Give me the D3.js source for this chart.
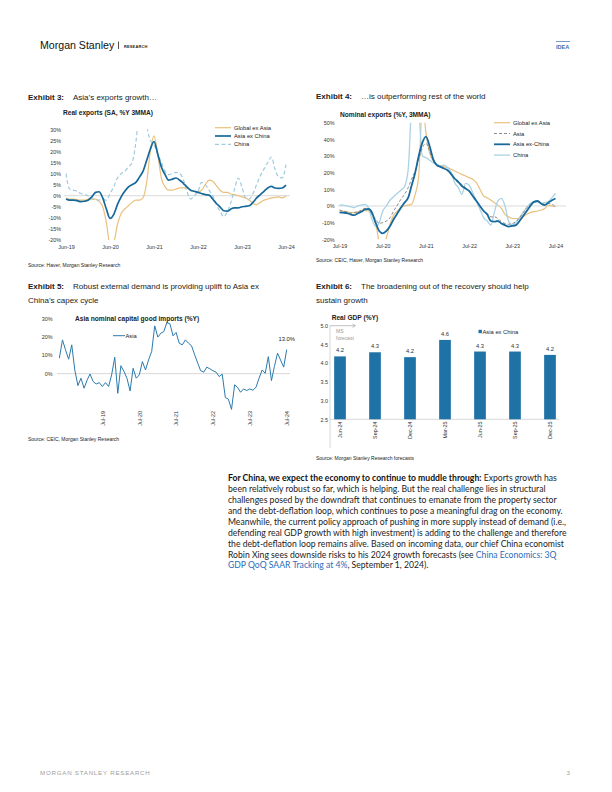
<!DOCTYPE html>
<html><head><meta charset="utf-8">
<script src="https://cdn.jsdelivr.net/npm/d3@7"></script>
<style>body{margin:0;background:#fff}svg{display:block}</style>
</head><body>
<svg id="c" width="612" height="792"></svg>
<script>
// ---------- DATA ----------
// Exhibit 3: Real exports (SA, %Y 3MMA), monthly Jun-19 .. Jun-24
const ex3Start = [2019, 5];
const ex3Ticks = ["Jun-19","Jun-20","Jun-21","Jun-22","Jun-23","Jun-24"];
const ex3YTicks = [30,25,20,15,10,5,0,-5,-10,-15,-20];
const ex3GlobalExAsia = [-1,-1.5,-1.5,-1.8,-2,-2,-1.5,-1.5,-1.5,-2.5,-5,-12,-22,-21,-13,-8,-6,-4.5,-3,-2,-2,-1,6,20,27,19,8,4,2.5,2.5,3,3.5,3.5,3.5,2.5,2,1.8,2.5,5,7,6.5,4.5,2.5,1.5,1.5,0.8,0.5,0,-0.5,-1,-2,-3.5,-4,-3,-2,-1.5,-1,-0.8,-0.5,-1,0];
const ex3AsiaExChina = [-1.5,-2,-2,-2.2,-2.7,-2.5,-2,-0.5,1.5,1.8,-1,-6,-10.2,-8.5,-4,-0.5,2,4,5,6,8.5,11,16,21,24.5,19,13,9.5,7,7.5,8,7,5.5,4,2.5,2,1.5,1,0.5,0.3,-1.5,-3.5,-5,-6.8,-7,-6,-5.5,-5.5,-5,-4.8,-4.5,-3,-1,0.5,2,3.5,4.2,3.5,3.3,3.5,4.8];
const ex3China = [10,3,2.5,2,1,0.5,0,-1,-2,-2,-1.5,-2,1,4,8,10,11,13,15,24,40,45,32,25,23,19,15,11,9.5,10,10.5,10,7,2,-1.5,0,2,6,5,2.5,0,-4,-7,-9.5,-7,-3,3,8,4,-1,-1.5,1,5,9,12,15,17.5,12,8.5,8,14];

// Exhibit 4: Nominal exports (%Y, 3MMA), monthly Jul-19 .. Jul-24
const ex4Start = [2019, 6];
const ex4Ticks = ["Jul-19","Jul-20","Jul-21","Jul-22","Jul-23","Jul-24"];
const ex4YTicks = [50,40,30,20,10,0,-10,-20];
const ex4GlobalExAsia = [-3,-3.2,-3.5,-4,-4,-3.5,-3,-2.8,-3,-5,-10,-22,-27,-19,-11,-5.5,-3,-1,0,0.5,1,7,18,62,44,32,27,25,24,23.5,23,22,21,20,19,18,17,16,14,10,6,5,3.5,2,0.5,-1.5,-5,-6.5,-7.5,-7.5,-7.5,-6.5,-5,-4,-3.4,-3,-2.4,-1.5,0.5,0,-0.4];
const ex4Asia = [-2.4,-3,-3.5,-4.4,-4,-3.5,-2.5,-1.4,-1.5,-5,-8,-10.4,-10,-9,-7,-3,0.5,4,7,11,16,21,28,35,37.6,33,27,24,23.5,22.5,21,19,16,14,13,11,9,6,3,0,-3,-4.5,-6.5,-6.5,-7.5,-9.5,-10.5,-11,-10.5,-9.5,-7,-4,-1,1,2.5,2.5,1.5,1,1.5,1,-0.5];
const ex4AsiaExChina = [-3.8,-4,-4.3,-5,-5.5,-4.5,-3.5,-2,-1.8,-4,-10,-15,-16.4,-15,-12,-8,-4.5,-1,2,5,12,20,30,38,41.6,36,28,24.5,23.5,22.5,21.5,19,16.5,14.5,12,10.5,9,6,3,0,-3,-5,-9,-9.4,-9,-10.5,-11.5,-12.4,-12,-11.5,-9,-6,-3,0,2.5,3,1.5,0.5,2,3.5,4.5];
const ex4China = [0.6,0.5,0,-0.4,-1,0,0.6,1,-1,-8,-12.4,-10,-3,0,3.6,5.5,7.6,9.5,11.6,22,60,80,60,30,29,27.5,26,25,24,24.5,23,20,14,11,7,13.6,12.6,8,3,-2,-7,-9,-11.4,-3.4,3,4.6,0,-9.4,-11.4,-10,-7,-4,-1,1.5,2.6,2.5,1.5,2,2.6,5,7.6];

// Exhibit 5: Asia nominal capital good imports (%Y), monthly, ending Jul-24
const ex5End = [2024, 6];
const ex5Ticks = ["Jul-19","Jul-20","Jul-21","Jul-22","Jul-23","Jul-24"];
const ex5YTicks = [30,20,10,0];
const ex5Asia = [8.4,18.3,12.9,7.8,15.6,2.0,-6.5,-2.5,-7.9,-3.4,-0.2,-4.3,-5.6,-4.9,-7,-4.9,-7,-0.7,8.9,-10.7,4.3,1.1,-2.5,-9.4,2.9,-2.5,-0.7,6.5,2,7.4,12,25.9,19.8,22,22.8,27.7,27,20.5,22.3,16.5,15.6,18.3,16.5,15.1,10.2,5.6,1.6,0.8,3.5,2.6,1.6,0.8,-1.6,-0.3,-13,-13.8,-19.4,-6.1,-7.4,-10.1,-8.3,-9.2,-8.3,-9,-7.4,-2.5,2,0.2,9.2,-3.8,3.8,11.1,7.4,3.5,13.0];

// Exhibit 6: Real GDP (%Y), Asia ex China
const ex6Categories = ["Jun-24","Sep-24","Dec-24","Mar-25","Jun-25","Sep-25","Dec-25"];
const ex6Values = [4.18,4.29,4.16,4.62,4.31,4.31,4.22];
const ex6YTicks = [5.0,4.5,4.0,3.5,3.0,2.5];

// ---------- DRAW ----------
const svg = d3.select("#c");
const F = "'Liberation Sans', Arial, sans-serif";
const C = {gold:"#e9c17d", dark:"#17699b", light:"#9ecbe0", gray:"#8a8a8a", china4:"#a9d3e5", zero:"#c8c8c8", text:"#222", tick:"#333"};

function txt(g, x, y, s, o={}) {
  const t = g.append("text").attr("x", x).attr("y", y).text(s)
    .attr("font-family", o.family || F).attr("font-size", o.size || 6)
    .attr("fill", o.fill || C.text);
  if (o.weight) t.attr("font-weight", o.weight);
  if (o.anchor) t.attr("text-anchor", o.anchor);
  if (o.ls) t.attr("letter-spacing", o.ls);
  return t;
}

// Header
txt(svg, 40, 49, "Morgan Stanley", {size: 10.6, fill: "#111"});
svg.append("line").attr("x1",118.5).attr("x2",118.5).attr("y1",41.5).attr("y2",49).attr("stroke","#222").attr("stroke-width",0.8);
txt(svg, 124, 47.5, "RESEARCH", {size: 3.9, weight: "bold", fill: "#222", ls: 0.2});
svg.append("rect").attr("x",556).attr("y",41).attr("width",14).attr("height",0.7).attr("fill","#3d6fb0");
txt(svg, 556, 48.5, "IDEA", {size: 5.6, weight: "bold", fill: "#3d6fb0"});

// Footer
txt(svg, 40, 775, "MORGAN STANLEY RESEARCH", {size: 6.2, fill: "#a0a0a0", ls: 0.75});
txt(svg, 570, 775, "3", {size: 6.2, fill: "#a0a0a0", anchor: "end"});

function exhibitTitle(x, y, num, lines) {
  const t = txt(svg, x, y, "", {size: 8});
  t.append("tspan").attr("font-weight","bold").text("Exhibit " + num + ":");
  t.append("tspan").attr("x", x + 45).text(lines[0]);
  if (lines[1]) txt(svg, x, y + 13.5, lines[1], {size: 8});
}

function monthDates(start, n) {
  const s = new Date(Date.UTC(start[0], start[1], 1));
  return d3.range(n).map(i => d3.utcMonth.offset(s, i));
}
function parseTick(s) { return d3.utcParse("%b-%y")(s); }

// Generic line chart
function lineChart(cfg) {
  const g = svg.append("g");
  const x = d3.scaleUtc().domain(cfg.xDomain).range(cfg.xRange);
  const y = d3.scaleLinear().domain(cfg.yDomain).range(cfg.yRange);
  const clipId = "clip" + Math.random().toString(36).slice(2,8);
  g.append("clipPath").attr("id", clipId).append("rect")
    .attr("x", cfg.xRange[0]-10).attr("y", y(cfg.yDomain[1]))
    .attr("width", cfg.xRange[1]-cfg.xRange[0]+20).attr("height", y(cfg.yDomain[0]) - y(cfg.yDomain[1]));
  g.append("line").attr("x1", cfg.zeroX[0]).attr("x2", cfg.zeroX[1])
    .attr("y1", y(0)).attr("y2", y(0)).attr("stroke", C.zero).attr("stroke-width", 0.7);
  const yAxis = d3.axisLeft(y).tickValues(cfg.yTicks).tickFormat(d => d + "%").tickSize(0).tickPadding(0);
  const ya = g.append("g").attr("transform", `translate(${cfg.yLabelX},0)`).call(yAxis);
  ya.select(".domain").remove();
  ya.selectAll("text").attr("font-family", F).attr("font-size", 5.4).attr("fill", C.tick);
  const xa = g.append("g").attr("transform", `translate(0,${cfg.xLabelY})`)
    .call(d3.axisBottom(x).tickValues(cfg.xTicks.map(parseTick)).tickFormat(d3.utcFormat("%b-%y")).tickSize(0).tickPadding(0));
  xa.select(".domain").remove();
  xa.selectAll("text").attr("font-family", F).attr("font-size", 5.4).attr("fill", C.tick);
  if (cfg.rotate) {
    xa.selectAll("text").attr("transform", "rotate(-90)").attr("text-anchor", "end")
      .attr("dy", "0.35em").attr("x", 0).attr("y", 0);
  }
  const lg = g.append("g").attr("clip-path", `url(#${clipId})`);
  cfg.series.forEach(s => {
    const line = d3.line().x(d => x(d[0])).y(d => y(d[1])).curve(s.curve || d3.curveMonotoneX);
    lg.append("path").datum(s.dates.map((d,i) => [d, s.values[i]]))
      .attr("d", line).attr("fill", "none").attr("stroke", s.color)
      .attr("stroke-width", s.width).attr("stroke-dasharray", s.dash || null)
      .attr("stroke-linejoin", "round");
  });
  return {g, x, y};
}

// ---------- Exhibit 3 ----------
exhibitTitle(28, 100, 3, ["Asia\u2019s exports growth\u2026"]);
txt(svg, 63, 114.5, "Real exports (SA, %Y 3MMA)", {size: 6.6, weight: "bold"});
{
  const d = monthDates(ex3Start, ex3AsiaExChina.length);
  lineChart({
    xDomain: [d[0], d[d.length-1]], xRange: [66, 286],
    yDomain: [-20, 30], yRange: [240, 129.3], yTicks: ex3YTicks,
    yLabelX: 61, xLabelY: 245.5, xTicks: ex3Ticks, zeroX: [64, 290],
    series: [
      {dates: d, values: ex3GlobalExAsia, color: C.gold, width: 1.2},
      {dates: d, values: ex3China, color: C.light, width: 1.2, dash: "4,2.5"},
      {dates: d, values: ex3AsiaExChina, color: C.dark, width: 1.7}
    ]
  });
  const leg = [["Global ex Asia", C.gold, null, 1.2], ["Asia ex China", C.dark, null, 1.7], ["China", C.light, "4,2.5", 1.2]];
  leg.forEach((l, i) => {
    const yy = 127.7 + i * 8.3;
    svg.append("line").attr("x1", 215).attr("x2", 231).attr("y1", yy).attr("y2", yy)
      .attr("stroke", l[1]).attr("stroke-width", l[3]).attr("stroke-dasharray", l[2]);
    txt(svg, 234, yy + 2, l[0], {size: 5.8});
  });
  txt(svg, 28, 267, "Source: Haver, Morgan Stanley Research", {size: 5});
}

// ---------- Exhibit 4 ----------
exhibitTitle(316, 99, 4, ["\u2026is outperforming rest of the world"]);
txt(svg, 340, 116.5, "Nominal exports (%Y, 3MMA)", {size: 6.6, weight: "bold"});
{
  const d = monthDates(ex4Start, ex4AsiaExChina.length);
  lineChart({
    xDomain: [d[0], d[d.length-1]], xRange: [339.5, 555.5],
    yDomain: [-20, 50], yRange: [239.3, 122.7], yTicks: ex4YTicks,
    yLabelX: 334.5, xLabelY: 244.5, xTicks: ex4Ticks, zeroX: [338, 566],
    series: [
      {dates: d, values: ex4GlobalExAsia, color: C.gold, width: 1.2},
      {dates: d, values: ex4China, color: C.china4, width: 1.3},
      {dates: d, values: ex4Asia, color: C.gray, width: 1.0, dash: "3,2"},
      {dates: d, values: ex4AsiaExChina, color: C.dark, width: 1.8}
    ]
  });
  const leg = [["Global ex Asia", C.gold, null, 1.2], ["Asia", C.gray, "3,2", 1.0], ["Asia ex-China", C.dark, null, 1.8], ["China", C.china4, null, 1.3]];
  leg.forEach((l, i) => {
    const yy = 122.7 + i * 10.8;
    svg.append("line").attr("x1", 494).attr("x2", 510).attr("y1", yy).attr("y2", yy)
      .attr("stroke", l[1]).attr("stroke-width", l[3]).attr("stroke-dasharray", l[2]);
    txt(svg, 513, yy + 2, l[0], {size: 5.8});
  });
  txt(svg, 316, 262, "Source: CEIC, Haver, Morgan Stanley Research", {size: 5});
}

// ---------- Exhibit 5 ----------
exhibitTitle(28, 289, 5, ["Robust external demand is providing uplift to Asia ex", "China\u2019s capex cycle"]);
{
  const n = ex5Asia.length;
  const endD = new Date(Date.UTC(ex5End[0], ex5End[1], 1));
  const d = d3.range(n).map(i => d3.utcMonth.offset(endD, i - (n - 1)));
  const c = lineChart({
    xDomain: [parseTick("Jul-18"), parseTick("Jul-24")], xRange: [65.5, 286.7],
    yDomain: [-20, 30], yRange: [410.5, 318.3], yTicks: ex5YTicks,
    yLabelX: 52.5, xLabelY: 411, xTicks: ex5Ticks, zeroX: [57, 290], rotate: true,
    series: [{dates: d, values: ex5Asia, color: "#2c7aac", width: 1.0, curve: d3.curveLinear}]
  });
  txt(svg, 75, 320.5, "Asia nominal capital good imports (%Y)", {size: 6.6, weight: "bold"});
  svg.append("line").attr("x1", 113).attr("x2", 125).attr("y1", 335.7).attr("y2", 335.7).attr("stroke", "#2c7aac").attr("stroke-width", 1);
  txt(svg, 125.5, 337.7, "Asia", {size: 5.8});
  txt(svg, c.x(d[n-1]), c.y(ex5Asia[n-1]) - 9, d3.format(".1f")(ex5Asia[n-1]) + "%", {size: 5.8, anchor: "middle"});
  txt(svg, 28, 441, "Source: CEIC, Morgan Stanley Research", {size: 5});
}

// ---------- Exhibit 6 ----------
exhibitTitle(316, 289, 6, ["The broadening out of the recovery should help", "sustain growth"]);
txt(svg, 331.7, 320, "Real GDP (%Y)", {size: 6.6, weight: "bold"});
{
  const g = svg.append("g");
  const x = d3.scaleBand().domain(ex6Categories).range([330, 560]).paddingInner(0.666).paddingOuter(0.119);
  const y = d3.scaleLinear().domain([2.5, 5.0]).range([419.3, 325.7]);
  const ya = g.append("g").attr("transform", "translate(328,0)")
    .call(d3.axisLeft(y).tickValues(ex6YTicks).tickFormat(d3.format(".1f")).tickSize(0).tickPadding(0));
  ya.select(".domain").remove();
  ya.selectAll("text").attr("font-family", F).attr("font-size", 5.4).attr("fill", C.tick);
  g.append("line").attr("x1", 330).attr("x2", 330).attr("y1", 325.7).attr("y2", 448).attr("stroke", "#bdbdbd").attr("stroke-width", 0.6);
  g.append("line").attr("x1", 330).attr("x2", 559).attr("y1", 419.3).attr("y2", 419.3).attr("stroke", "#bdbdbd").attr("stroke-width", 0.6);
  g.selectAll("rect.bar").data(ex6Values).join("rect").attr("class", "bar")
    .attr("x", (v, i) => x(ex6Categories[i])).attr("width", x.bandwidth())
    .attr("y", v => y(v)).attr("height", v => y(2.5) - y(v)).attr("fill", "#1f72a6");
  g.selectAll("text.val").data(ex6Values).join("text").attr("class", "val")
    .attr("x", (v, i) => x(ex6Categories[i]) + x.bandwidth() / 2).attr("y", v => y(v) - 4)
    .attr("text-anchor", "middle").attr("font-family", F).attr("font-size", 5.8).attr("fill", "#333")
    .text(v => d3.format(".1f")(v));
  const xa = g.append("g").attr("transform", "translate(0,421.5)")
    .call(d3.axisBottom(x).tickSize(0).tickPadding(0));
  xa.select(".domain").remove();
  xa.selectAll("text").attr("font-family", F).attr("font-size", 5.4).attr("fill", C.tick)
    .attr("transform", "rotate(-90)").attr("text-anchor", "end").attr("dy", "0.35em").attr("x", 0).attr("y", 0);
  g.append("line").attr("x1", 330).attr("x2", 355).attr("y1", 325.7).attr("y2", 325.7).attr("stroke", "#9a9a9a").attr("stroke-width", 0.6);
  g.append("path").attr("d", "M352.5,324 L355.5,325.7 L352.5,327.4").attr("fill", "none").attr("stroke", "#9a9a9a").attr("stroke-width", 0.6);
  txt(svg, 336, 333, "MS", {size: 5, fill: "#999"});
  txt(svg, 336, 339.5, "forecast", {size: 5, fill: "#999"});
  svg.append("rect").attr("x", 478.5).attr("y", 329.8).attr("width", 3.4).attr("height", 3.4).attr("fill", "#1f72a6");
  txt(svg, 482.5, 333.5, "Asia ex China", {size: 5.8});
  txt(svg, 316, 459.5, "Source: Morgan Stanley Research forecasts", {size: 5});
}

// ---------- Paragraph ----------
{
  const PF = "Lato, 'Open Sans', sans-serif";
  const lines = [
    [["For China, we expect the economy to continue to muddle through:", "b"], [" Exports growth has", ""]],
    [["been relatively robust so far, which is helping. But the real challenge lies in structural", ""]],
    [["challenges posed by the downdraft that continues to emanate from the property sector", ""]],
    [["and the debt-deflation loop, which continues to pose a meaningful drag on the economy.", ""]],
    [["Meanwhile, the current policy approach of pushing in more supply instead of demand (i.e.,", ""]],
    [["defending real GDP growth with high investment) is adding to the challenge and therefore", ""]],
    [["the debt-deflation loop remains alive. Based on incoming data, our chief China economist", ""]],
    [["Robin Xing sees downside risks to his 2024 growth forecasts (see ", ""], ["China Economics: 3Q", "l"]],
    [["GDP QoQ SAAR Tracking at 4%", "l"], [", September 1, 2024).", ""]]
  ];
  const texts = lines.map((ln, i) => {
    const t = svg.append("text").attr("x", 228).attr("y", 481 + i * 10.93)
      .attr("font-family", PF).attr("font-size", 8).attr("fill", "#222");
    ln.forEach(seg => {
      const ts = t.append("tspan").text(seg[0]);
      if (seg[1] === "b") ts.attr("font-weight", "bold").attr("fill", "#111");
      if (seg[1] === "l") ts.attr("fill", "#2b6cb8");
    });
    return t;
  });
  // size font so the longest line spans the text column (228 -> 567)
  const w = texts[5].node().getComputedTextLength();
  const fs = 8 * 339 / w;
  texts.forEach(t => t.attr("font-size", fs));
}
</script>
</body></html>
